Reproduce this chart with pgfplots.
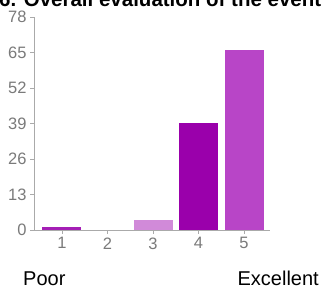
\documentclass[border=0pt]{standalone}
\usepackage{pgfplots}
\pgfplotsset{compat=1.18}
\usepackage{fontspec}
\setmainfont{Liberation Sans}
\definecolor{cA}{HTML}{A41FB5}
\definecolor{cC}{HTML}{D18AD9}
\definecolor{cD}{HTML}{9A00AB}
\definecolor{cE}{HTML}{B845C7}
\definecolor{tickgray}{HTML}{7A7A7A}
\definecolor{axgray}{HTML}{AAAAAA}
\begin{document}
\begin{tikzpicture}
\useasboundingbox (0,0) rectangle (321pt,291pt);
\clip (0,0) rectangle (321pt,291pt);
\begin{axis}[
  at={(34pt,61pt)}, anchor=south west,
  scale only axis, width=236pt, height=213pt,
  xmin=0.385, xmax=5.57, ymin=0, ymax=78,
  axis x line*=bottom, axis y line*=left,
  axis line style={axgray, line width=0.8pt, -},
  xtick={1,2,3,4,5}, ytick={0,13,26,39,52,65,78},
  tick align=outside, major tick length=4pt,
  tick style={axgray, line width=0.8pt},
  /pgf/number format/assume math mode=true,
  ticklabel style={font=\fontsize{16.5}{16.5}\selectfont, text=tickgray},
  yticklabel style={xshift=0pt},
  ybar, bar width=39pt,
]
\addplot[fill=cA, draw=none, bar shift=0pt] coordinates {(1,1)};
\addplot[fill=cC, draw=none, bar shift=0pt] coordinates {(3,3.5)};
\addplot[fill=cD, draw=none, bar shift=0pt] coordinates {(4,39)};
\addplot[fill=cE, draw=none, bar shift=0pt] coordinates {(5,66)};
\end{axis}
\node[anchor=base west, font=\fontsize{20.5}{20.5}\selectfont\bfseries, inner sep=0pt] at (-1pt,284pt) {6. Overall evaluation of the event};
\node[anchor=base west, font=\fontsize{20}{20}\selectfont, inner sep=0pt] at (23pt,5pt) {Poor};
\node[anchor=base east, font=\fontsize{20}{20}\selectfont, inner sep=0pt] at (319pt,5pt) {Excellent};
\end{tikzpicture}
\end{document}
